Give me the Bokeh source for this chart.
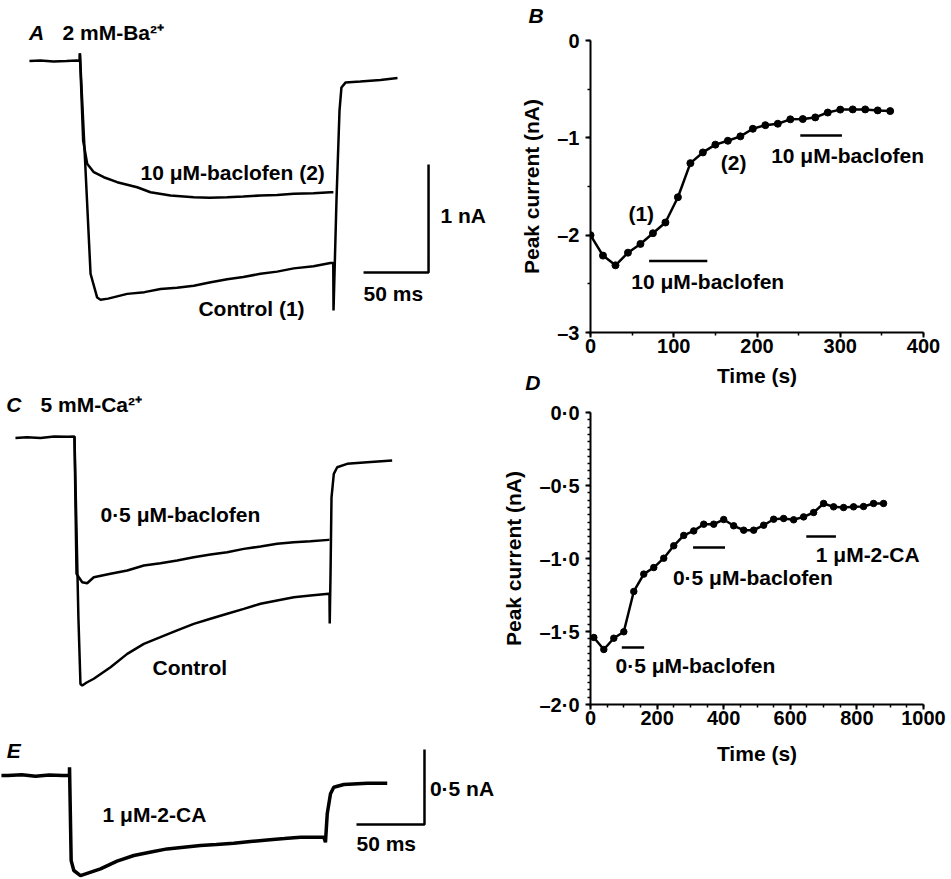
from bokeh.plotting import figure
from bokeh.layouts import row, column
from bokeh.models import Range1d, Label, SingleIntervalTicker, CustomJSTickFormatter
from bokeh.core.properties import value
from bokeh.embed import file_html
from bokeh.resources import INLINE

FONT = "Liberation Sans"
FS = "21px"
TICK_FS = "20px"
WEIGHT = "bold"

# ---------------- Panel A: 2 mM-Ba2+ current traces (time ms, current nA)
a_ctrl_t = [-38.5, -30, -20, -10, -2, 0, 0.3, 8.5, 13.6, 16.2, 22, 36.7, 50, 62.3, 75, 87.9,
            100, 113.6, 126, 139.2, 152, 164.8, 180, 193, 195.2, 195.4, 197.7, 200, 201.5,
            204.6, 216, 231.5, 244.6]
a_ctrl_i = [0.0, 0.005, -0.005, 0.0, 0.005, 0.0, 0.07, -1.97, -2.19, -2.21, -2.2, -2.156, -2.14,
            -2.11, -2.1, -2.08, -2.05, -2.02, -2.0, -1.97, -1.95, -1.92, -1.9, -1.87, -1.87,
            -2.31, -1.28, -0.46, -0.245, -0.2, -0.19, -0.176, -0.157]
a_bac_t = [0.3, 2.8, 5.9, 11, 18.7, 29, 44.4, 54.6, 70, 87.9, 100, 113.6, 126, 139.2, 152,
           164.8, 180, 193.1, 195.3]
a_bac_i = [0.07, -0.736, -0.952, -1.03, -1.076, -1.122, -1.169, -1.215, -1.245, -1.261, -1.265,
           -1.261, -1.255, -1.245, -1.24, -1.23, -1.225, -1.215, -1.215]
a_scale_ms = 50
a_scale_na = 1
a_scale_origin = (268.5, -1.958)

# ---------------- Panel B: peak current vs time (10 uM baclofen)
b_time = [0, 15, 30, 45, 60, 75, 90, 105, 120, 135, 150, 165, 180, 195, 210, 225, 240, 255,
          270, 285, 300, 315, 330, 345, 360]
b_peak = [-2.00, -2.21, -2.31, -2.18, -2.09, -1.98, -1.87, -1.61, -1.26, -1.15, -1.07, -1.03,
          -0.985, -0.907, -0.87, -0.855, -0.81, -0.807, -0.79, -0.74, -0.71, -0.708, -0.708,
          -0.718, -0.725]
b_bar_start = [70.4, 252]
b_bar_end = [140.3, 302]
b_bar_level = [-2.265, -0.975]

# ---------------- Panel C: 5 mM-Ca2+ traces
c_ctrl_t = [-43.4, -35, -25, -15, -5, 0, 2.9, 4.4, 5.7, 9, 14.2, 26.5, 38.8, 51, 63.2, 75.5,
            87.7, 100, 112.3, 124.5, 136.8, 149, 161.3, 173.5, 187, 187.5, 187.7, 188.3, 189,
            190.7, 193.2, 200.5, 215.2, 233.6]
c_ctrl_i = [0.0, 0.005, 0.0, 0.01, 0.008, 0.01, -1.2, -1.64, -1.65, -1.63, -1.605, -1.528,
            -1.439, -1.372, -1.328, -1.283, -1.239, -1.205, -1.172, -1.139, -1.105, -1.083,
            -1.061, -1.05, -1.039, -1.039, -1.237, -0.9, -0.397, -0.239, -0.195, -0.172,
            -0.161, -0.15]
c_bac_t = [0, 1.5, 3.2, 5.7, 9.3, 14.2, 26.5, 38.8, 51, 63.2, 75.5, 87.7, 100, 112.3, 124.5,
           136.8, 149, 161.3, 173.5, 187, 187.5]
c_bac_i = [0.01, -0.905, -0.928, -0.961, -0.968, -0.928, -0.905, -0.883, -0.85, -0.835,
           -0.817, -0.795, -0.777, -0.761, -0.739, -0.723, -0.705, -0.695, -0.688, -0.679,
           -0.679]

# ---------------- Panel D: peak current vs time (0.5 uM baclofen, 1 uM 2-CA)
d_time = [10, 40, 70, 100, 130, 160, 190, 220, 250, 280, 310, 340, 370, 400, 430, 460, 490,
          520, 550, 580, 610, 640, 670, 700, 730, 760, 790, 820, 850, 880]
d_peak = [-1.541, -1.623, -1.546, -1.502, -1.226, -1.107, -1.062, -0.998, -0.913, -0.842,
          -0.811, -0.765, -0.765, -0.733, -0.776, -0.806, -0.806, -0.772, -0.731, -0.726,
          -0.735, -0.715, -0.685, -0.623, -0.646, -0.651, -0.646, -0.644, -0.623, -0.623]
d_bar_start = [94, 308, 648]
d_bar_end = [161, 404, 737]
d_bar_level = [-1.61, -0.925, -0.85]

# ---------------- Panel E: 1 uM 2-CA trace
e_t = [-50, -45.3, -35, -25, -15, -5, 0, 0.05, 1.25, 3.2, 8.1, 22.8, 35, 47.3, 60, 71.8, 84, 96.3,
       108, 120.8, 133, 145.4, 158, 169.9, 187, 188.2, 189.5, 191.9, 194.3, 201.7, 218.9, 233.6]
e_i = [0.0, 0.0, 0.005, -0.005, 0.003, 0.0, 0.0, 0.055, -0.567, -0.633, -0.667, -0.622, -0.57,
       -0.533, -0.51, -0.489, -0.478, -0.467, -0.46, -0.451, -0.44, -0.429, -0.42, -0.411,
       -0.411, -0.445, -0.255, -0.122, -0.078, -0.06, -0.051, -0.051]
e_scale_ms = 50
e_scale_na = 0.5
e_scale_origin = (261, -0.327)

LEFT_W = 495
RIGHT_W = 951 - LEFT_W


def trace_fig(w, h, xr, yr):
    p = figure(width=w, height=h, x_range=Range1d(*xr), y_range=Range1d(*yr),
               output_backend="svg", toolbar_location=None,
               x_axis_location=None, y_axis_location=None, min_border=0)
    p.grid.visible = False
    p.outline_line_color = None
    p.background_fill_color = "white"
    p.border_fill_color = "white"
    return p


def add_text(p, xs, ys, texts, align="left", style=WEIGHT):
    p.text(x=xs, y=ys, text=texts, text_font=value(FONT), text_font_size=FS,
           text_baseline="middle", text_align=align, text_font_style=style, text_color="black")


def scale_bar(p, origin, dx, dy):
    ox, oy = origin
    p.line([ox - dx, ox, ox], [oy, oy, oy + dy], line_width=2.5, color="black")


# ---- A  (screen 0..495 x 0..345)
pA = trace_fig(LEFT_W, 345, (-60.77, 320.0), (-2.634, 0.560))
pA.line(a_ctrl_t, a_ctrl_i, line_width=2.5, color="black")
pA.line(a_bac_t, a_bac_i, line_width=2.5, color="black")
scale_bar(pA, a_scale_origin, a_scale_ms, a_scale_na)
add_text(pA, [-33.1], [0.264], ["A"], align="center", style="bold italic")
add_text(pA, [-13.1, 46.9, 91.5, 277.7, 218.5], [0.264, -1.032, -2.29, -1.43, -2.153],
         ["2 mM-Ba²⁺", "10 μM-baclofen (2)", "Control (1)", "1 nA", "50 ms"])

# ---- C  (screen 345..715)
pC = trace_fig(LEFT_W, 370, (-54.4, 309.6), (-1.85, 0.617))
pC.line(c_ctrl_t, c_ctrl_i, line_width=2.5, color="black")
pC.line(c_bac_t, c_bac_i, line_width=2.5, color="black")
add_text(pC, [-44.6], [0.223], ["C"], align="center", style="bold italic")
add_text(pC, [-25, 19.1, 57.4], [0.223, -0.51, -1.53],
         ["5 mM-Ca²⁺", "0·5 μM-baclofen", "Control"])

# ---- E  (screen 715..879)
pE = trace_fig(LEFT_W, 164, (-50.7, 313.2), (-0.693, 0.4))
pE.line(e_t, e_i, line_width=3.5, color="black")
scale_bar(pE, e_scale_origin, e_scale_ms, e_scale_na)
add_text(pE, [-41], [0.167], ["E"], align="center", style="bold italic")
add_text(pE, [24.3, 265.0, 211], [-0.26, -0.087, -0.453], ["1 μM-2-CA", "0·5 nA", "50 ms"])


def style_axes(p, ytick_standoff, ylabel_standoff, xlabel_standoff):
    for ax in (p.xaxis[0], p.yaxis[0]):
        ax.axis_line_width = 2
        ax.axis_line_color = "black"
        ax.major_tick_line_width = 2
        ax.minor_tick_line_width = 1.5
        ax.major_tick_out = 5
        ax.major_tick_in = 0
        ax.minor_tick_out = 3
        ax.minor_tick_in = 0
        ax.major_label_text_font = FONT
        ax.major_label_text_font_size = TICK_FS
        ax.major_label_text_font_style = WEIGHT
        ax.major_label_text_color = "black"
        ax.axis_label_text_font = FONT
        ax.axis_label_text_font_size = FS
        ax.axis_label_text_font_style = WEIGHT
        ax.axis_label_text_color = "black"
    p.xaxis.major_label_standoff = 1
    p.xaxis.axis_label_standoff = xlabel_standoff
    p.yaxis.major_label_standoff = ytick_standoff
    p.yaxis.axis_label_standoff = ylabel_standoff
    p.grid.visible = False
    p.outline_line_color = None


def letter(x, y, t):
    return Label(x=x, y=y, text=t, text_font=FONT, text_font_size=FS, text_color="black",
                 text_font_style="bold italic", text_align="center", text_baseline="middle")


# ---- B  (screen x 495..951, y 0..395; frame 590..927 x 40..332)
pB = figure(width=RIGHT_W, height=395, x_range=Range1d(0, 400), y_range=Range1d(-3, 0),
            output_backend="svg", toolbar_location=None,
            min_border_left=95, min_border_right=RIGHT_W - 95 - 337, min_border_top=40,
            min_border_bottom=63,
            x_axis_label="Time (s)", y_axis_label="Peak current (nA)")
pB.xaxis.ticker = SingleIntervalTicker(interval=100, num_minor_ticks=2)
pB.yaxis.ticker = SingleIntervalTicker(interval=1, num_minor_ticks=2)
pB.yaxis.formatter = CustomJSTickFormatter(code="return tick.toFixed(0).replace('-', '\u2013');")
style_axes(pB, 6, 11, 8)
pB.line(b_time, b_peak, line_width=2.5, color="black")
pB.scatter(b_time, b_peak, size=7, color="black")
pB.segment(x0=b_bar_start, y0=b_bar_level, x1=b_bar_end, y1=b_bar_level, line_width=2.5, color="black")
add_text(pB, [49, 217], [-2.48, -1.18], ["10 μM-baclofen", "10 μM-baclofen"])
add_text(pB, [61, 172], [-1.78, -1.25], ["(1)", "(2)"], align="center")
pB.add_layout(letter(-65.3, 0.257, "B"), "above")
pB.add_layout(letter(-69.2, -3.514, "D"), "right")

# ---- D  (screen y 395..; frame 588..926 x 412..704)
pD = figure(width=RIGHT_W, height=375, x_range=Range1d(0, 1000), y_range=Range1d(-2, 0),
            output_backend="svg", toolbar_location=None,
            min_border_left=90, min_border_right=RIGHT_W - 90 - 338, min_border_top=17,
            min_border_bottom=66,
            x_axis_label="Time (s)", y_axis_label="Peak current (nA)")
pD.xaxis.ticker = SingleIntervalTicker(interval=200, num_minor_ticks=4)
pD.yaxis.ticker = SingleIntervalTicker(interval=0.5, num_minor_ticks=10)
pD.yaxis.formatter = CustomJSTickFormatter(
    code="return tick.toFixed(1).replace('-', '\u2013').replace('.', '\u00b7');")
style_axes(pD, 6, 11, 14)
pD.line(d_time, d_peak, line_width=2.5, color="black")
pD.scatter(d_time, d_peak, size=6.5, color="black")
pD.segment(x0=d_bar_start, y0=d_bar_level, x1=d_bar_end, y1=d_bar_level, line_width=2.5, color="black")
add_text(pD, [75, 247.5, 676.5], [-1.733, -1.132, -0.975],
         ["0·5 μM-baclofen", "0·5 μM-baclofen", "1 μM-2-CA"])

layout = row(column(pA, pC, pE, spacing=0), column(pB, pD, spacing=0), spacing=0)
open("out.html", "w").write(file_html(layout, INLINE))
